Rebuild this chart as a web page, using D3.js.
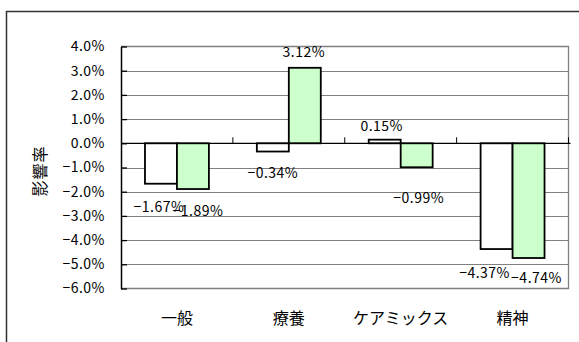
<!DOCTYPE html>
<html><head><meta charset="utf-8">
<script src="https://cdn.jsdelivr.net/npm/d3@7"></script>
<style>
html,body{margin:0;padding:0;background:#fff;}
svg{display:block;}
text{font-family:"Noto Sans CJK JP","Noto Sans",sans-serif;fill:#000;}
</style></head>
<body>
<svg id="chart" width="579" height="342"></svg>
<script>
const categories = ["一般", "療養", "ケアミックス", "精神"];
const seriesNames = ["A", "B"];
const seriesA = [-1.67, -0.34, 0.15, -4.37];
const seriesB = [-1.89, 3.12, -0.99, -4.74];
const yTicks = [4, 3, 2, 1, 0, -1, -2, -3, -4, -5, -6];
const yTitle = "影響率";

// layout-only label nudges [dx, dy] (series A then B per category)
const nudgeA = [[-2, 1], [0, 0], [-3, 1], [-12, 2]];
const nudgeB = [[5, 0], [-1, -1], [2, 9], [8, -2]];

const svg = d3.select("#chart");
const W = 579, H = 342;
const L = 121, R = 568.5, T = 46.5, B = 288.5;
const fills = ["#ffffff", "#ccffcc"];
const minus = s => s.replace("-", "\u2212");

const x0 = d3.scaleBand().domain(categories).range([L, R]).padding(0);
const bw = x0.bandwidth();
const gap = bw * 0.75 / 3.5;
const x1 = d3.scaleBand().domain(seriesNames).range([gap, bw - gap]).padding(0);
const y = d3.scaleLinear().domain([-6, 4]).range([B, T]);

// outer frame
svg.append("path").attr("d", `M6.5,${H+5}V11.5H${W+5}`)
  .attr("fill", "none").attr("stroke", "#333").attr("stroke-width", 1.5);

// gridlines
svg.append("g").selectAll("line").data(yTicks.filter(t => t !== 0 && t !== -6 && t !== 4)).join("line")
  .attr("x1", L).attr("x2", R).attr("y1", d => Math.round(y(d)) + 0.5).attr("y2", d => Math.round(y(d)) + 0.5)
  .attr("stroke", "#808080").attr("stroke-width", 1.2);
// plot border top/right/bottom (grey)
svg.append("path").attr("d", `M${L},${T}H${R}V${B}H${L}`)
  .attr("fill", "none").attr("stroke", "#808080").attr("stroke-width", 1.3);

// y axis (left)
const yAxis = d3.axisLeft(y).tickValues(yTicks).tickSize(0).tickPadding(16)
  .tickFormat(d => minus(d3.format(".1f")(d) + "%"));
const ga = svg.append("g").attr("transform", `translate(${L},0)`).call(yAxis);
ga.select(".domain").attr("stroke", "#000").attr("stroke-width", 1.5);
ga.selectAll(".tick text").attr("font-size", 14).attr("letter-spacing", 0.5)
  .attr("font-family", '"Noto Sans CJK JP",sans-serif').attr("fill", "#000");
// inner ticks
ga.selectAll(".tick").append("line").attr("x1", 0).attr("x2", 6).attr("stroke", "#000").attr("stroke-width", 1.3);

// bars
const rows = categories.map((c, i) => ({c, vals: [
  {s: "A", v: seriesA[i], k: 0, n: nudgeA[i]},
  {s: "B", v: seriesB[i], k: 1, n: nudgeB[i]}]}));
const g = svg.append("g").selectAll("g").data(rows).join("g")
  .attr("transform", d => `translate(${x0(d.c)},0)`);
g.selectAll("rect").data(d => d.vals).join("rect")
  .attr("x", d => x1(d.s)).attr("width", x1.bandwidth())
  .attr("y", d => Math.min(y(d.v), y(0))).attr("height", d => Math.abs(y(d.v) - y(0)))
  .attr("fill", d => fills[d.k]).attr("stroke", "#000").attr("stroke-width", 1.8);

// zero axis line + category ticks
svg.append("line").attr("x1", L).attr("x2", R + 2).attr("y1", y(0)).attr("y2", y(0))
  .attr("stroke", "#000").attr("stroke-width", 1.3);
svg.append("g").selectAll("line").data(categories.slice(1).concat(["_end"])).join("line")
  .attr("x1", d => d === "_end" ? R : x0(d)).attr("x2", d => d === "_end" ? R : x0(d))
  .attr("y1", y(0) - 6).attr("y2", y(0)).attr("stroke", "#000").attr("stroke-width", 1);

// data labels
g.selectAll("text").data(d => d.vals).join("text")
  .attr("x", d => x1(d.s) + x1.bandwidth() / 2 + d.n[0])
  .attr("y", d => (d.v >= 0 ? y(d.v) - 15 : y(d.v) + 22) + d.n[1])
  .attr("dy", "0.35em").attr("text-anchor", "middle")
  .attr("font-size", 14).attr("letter-spacing", 0.5)
  .text(d => minus(d3.format(".2f")(d.v) + "%"));

// category labels
svg.append("g").selectAll("text").data(categories).join("text")
  .attr("x", d => x0(d) + bw / 2).attr("y", 318).attr("dy", "0.35em")
  .attr("text-anchor", "middle").attr("font-size", 16)
  .text(d => d);

// y title
svg.append("text").attr("transform", `translate(40,171) rotate(-90)`)
  .attr("text-anchor", "middle").attr("dy", "0.35em").attr("font-size", 16)
  .attr("letter-spacing", 1).text(yTitle);
</script>
</body></html>
